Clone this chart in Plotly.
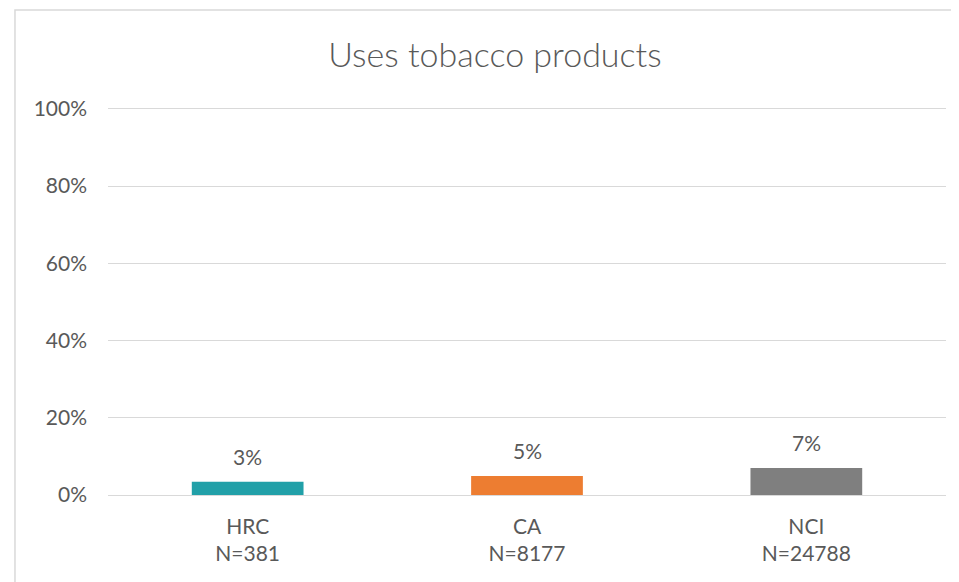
import plotly.graph_objects as go

# chart data
groups = ["HRC<br>N=381", "CA<br>N=8177", "NCI<br>N=24788"]
shares = [0.034, 0.049, 0.070]
share_labels = ["3%", "5%", "7%"]
bar_colors = ["#21A0A8", "#ED7D31", "#7F7F7F"]
y_ticks = [0, 0.2, 0.4, 0.6, 0.8, 1.0]
y_tick_text = ["0%", "20%", "40%", "60%", "80%", "100%"]

text_col = "#595959"
grid_col = "#D9D9D9"

fig = go.Figure()
fig.add_trace(go.Bar(
    x=groups, y=shares,
    marker=dict(color=bar_colors, line=dict(width=0)),
    width=0.4,
    hoverinfo="skip",
))

# data labels above bars
for g, v, t in zip(groups, shares, share_labels):
    fig.add_annotation(x=g, y=v, text=t, showarrow=False, yanchor="bottom",
                       yshift=11, font=dict(size=21, color=text_col))

# outer chart border (only top/left visible in the crop)
fig.add_shape(type="rect", xref="paper", yref="paper",
              x0=-0.111, x1=1.05, y0=-0.5, y1=1 + 95 / 390,
              line=dict(color="#D9D9D9", width=1.5), layer="below")

# page body has an 8px margin, so the figure is a bit smaller than the window
fig.update_layout(
    width=951, height=574,
    margin=dict(l=100, r=13, t=97, b=87),
    paper_bgcolor="white", plot_bgcolor="white",
    font=dict(family="Lato", color=text_col, size=21),
    title=dict(text="Uses tobacco products", x=487 / 951, xref="container",
               xanchor="center",
               y=1 - 47 / 574, yref="container", yanchor="middle",
               font=dict(size=34, color=text_col, weight=300)),
    showlegend=False,
    bargap=0.6,
)
# range slightly above 1 so the 100% gridline is drawn
fig.update_yaxes(range=[0, 1.01], tickvals=y_ticks, ticktext=y_tick_text,
                 showgrid=True, gridcolor=grid_col, gridwidth=1.3,
                 zeroline=True, zerolinecolor=grid_col, zerolinewidth=1.3,
                 showline=False, ticks="", ticklabelstandoff=20,
                 tickfont=dict(size=21, color=text_col))
fig.update_xaxes(showgrid=False, showline=False, ticks="",
                 ticklabelstandoff=17,
                 tickfont=dict(size=21, color=text_col))

fig.write_html("out.html")
